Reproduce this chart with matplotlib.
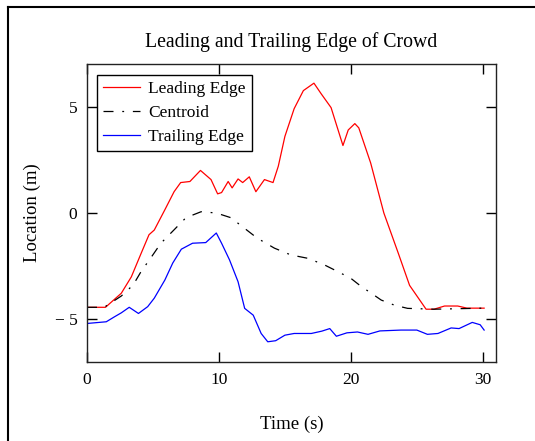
import numpy as np
import matplotlib
matplotlib.use("Agg")
import matplotlib.pyplot as plt
from matplotlib.lines import Line2D

# values
lead_t = [0, 1.4, 2.6, 3.36, 4.1, 4.7, 5.1, 5.9, 6.6, 7.1, 7.8, 8.6, 9.4, 9.9, 10.2,
          10.7, 11.0, 11.45, 11.8, 12.3, 12.8, 13.45, 14.1, 14.5, 15.0, 15.7, 16.4,
          17.2, 17.75, 18.5, 19.4, 19.8, 20.3, 20.6, 21.5, 22.5, 23.6, 24.45, 25.7,
          26.3, 27.1, 28.1, 28.8, 30.1]
lead_v = [-4.43, -4.43, -3.77, -3.0, -1.9, -1.02, -0.8, 0.15, 1.0, 1.43, 1.48, 2.0,
          1.57, 0.9, 0.96, 1.48, 1.18, 1.6, 1.43, 1.7, 1.0, 1.57, 1.43, 2.2, 3.6, 4.9,
          5.75, 6.1, 5.6, 4.95, 3.17, 3.9, 4.2, 4.0, 2.35, 0.0, -1.9, -3.4, -4.52,
          -4.52, -4.37, -4.37, -4.47, -4.47]

cent_t = [0, 1.3, 2.6, 3.5, 4.1, 4.9, 5.6, 6.6, 7.5, 8.65, 9.8, 10.9, 11.9, 12.9,
          14.2, 15.45, 16.75, 18.0, 19.0, 20.0, 20.8, 21.55, 22.3, 23.3, 24.3, 26.3, 30.1]
cent_v = [-4.43, -4.43, -3.9, -3.38, -2.75, -2.05, -1.42, -0.79, -0.22, 0.06, 0.0,
          -0.22, -0.7, -1.18, -1.65, -1.97, -2.13, -2.44, -2.75, -3.07, -3.46, -3.77,
          -4.09, -4.33, -4.48, -4.52, -4.47]

trail_t = [0, 1.46, 2.1, 2.6, 3.2, 3.9, 4.6, 5.1, 5.9, 6.5, 7.15, 8.0, 9.0, 9.8, 10.2,
           10.8, 11.45, 11.95, 12.6, 13.2, 13.7, 14.3, 15.0, 15.7, 17.0, 17.8, 18.4,
           18.9, 19.7, 20.5, 21.3, 22.2, 23.8, 25.0, 25.8, 26.6, 27.6, 28.2, 29.2,
           29.8, 30.1]
trail_v = [-5.19, -5.11, -4.87, -4.69, -4.43, -4.72, -4.4, -4.0, -3.15, -2.35, -1.7,
           -1.42, -1.39, -0.94, -1.42, -2.2, -3.23, -4.48, -4.8, -5.66, -6.05, -6.0,
           -5.74, -5.66, -5.66, -5.55, -5.43, -5.79, -5.63, -5.59, -5.7, -5.54, -5.5,
           -5.5, -5.7, -5.66, -5.4, -5.43, -5.14, -5.25, -5.5]

x_ticks = [0, 10, 20, 30]
y_ticks = [-5, 0, 5]
y_labels = ["\u2212 5", "0", "5"]

plt.rcParams['font.family'] = ['Liberation Serif', 'DejaVu Serif']
fs = 12.5

fig = plt.figure(figsize=(5.35, 4.41), dpi=100)
W, H = 535, 441
ax = fig.add_axes([87 / W, 1 - 362 / H, (496 - 87) / W, (362 - 64) / H])

ax.plot(lead_t, lead_v, color='red', lw=0.9, label='Leading Edge')
ax.plot(cent_t, cent_v, color='black', lw=0.9, linestyle=(0, (8, 7, 1.5, 7)),
        label='Centroid')
ax.plot(trail_t, trail_v, color='blue', lw=0.9, label='Trailing Edge')

ax.set_xlim(0, 31)
ax.set_ylim(-7, 7)
ax.set_xticks(x_ticks)
ax.set_yticks(y_ticks)
ax.set_yticklabels(y_labels)
ax.tick_params(direction='in', length=7, width=1, top=True, right=True,
               labelsize=fs, pad=7)
for s in ax.spines.values():
    s.set_linewidth(1.0)
    s.set_color('#222222')

ax.set_title('Leading and Trailing Edge of Crowd', fontsize=14.2, pad=12)
ax.set_xlabel('Time (s)', fontsize=13.5, labelpad=20)
ax.set_ylabel('Location (m)', fontsize=13.5, labelpad=10)

leg = ax.legend(loc='upper left', bbox_to_anchor=(10 / 409, 1 - 11 / 298),
                borderaxespad=0, fontsize=fs, fancybox=False, framealpha=1,
                edgecolor='black', handlelength=2.1, handletextpad=0.5,
                labelspacing=0.45, borderpad=0.35)
leg.get_frame().set_linewidth(1.0)

# outer frame (left and top edges visible)
fig.add_artist(Line2D([8 / W, 8 / W], [0, 1 - 7 / H], color='black', lw=1.5))
fig.add_artist(Line2D([8 / W, 1], [1 - 7 / H, 1 - 7 / H], color='black', lw=1.5))

fig.savefig('out.png', dpi=100)
